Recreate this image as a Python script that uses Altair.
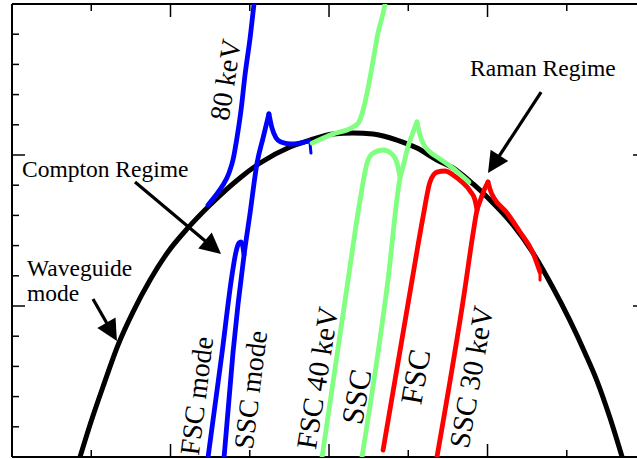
import altair as alt
import pandas as pd

# Dispersion diagram: frequency w against wavenumber k (arbitrary units)
K_MAX = 3.943
W_MAX = 3.0

# Waveguide mode
wg_k = [0.429, 0.498, 0.580, 0.669, 0.763, 0.871, 0.984, 1.110, 1.249, 1.438, 1.565,
        1.754, 1.880, 2.025, 2.151, 2.278, 2.429, 2.555, 2.681, 2.782, 2.909, 3.016,
        3.161, 3.287, 3.407, 3.521, 3.615, 3.691, 3.773, 3.849]
wg_w = [0.000, 0.232, 0.483, 0.742, 0.960, 1.172, 1.358, 1.517, 1.669, 1.848, 1.947,
        2.053, 2.099, 2.139, 2.146, 2.139, 2.099, 2.046, 1.967, 1.914, 1.808, 1.702,
        1.536, 1.351, 1.132, 0.901, 0.689, 0.503, 0.258, 0.000]

# 80 keV beam
b_upper_k = [1.237, 1.287, 1.331, 1.369, 1.394, 1.420, 1.445, 1.470, 1.502, 1.527, 1.539]
b_upper_w = [1.669, 1.735, 1.801, 1.881, 1.967, 2.119, 2.298, 2.530, 2.775, 3.000, 3.093]
b_fsc_k = [1.237, 1.325, 1.388, 1.413, 1.432, 1.445, 1.457, 1.464]
b_fsc_w = [0.000, 0.689, 1.205, 1.358, 1.417, 1.424, 1.391, 1.338]
b_ssc_k = [1.338, 1.394, 1.464, 1.502, 1.546, 1.584, 1.621]
b_ssc_w = [0.000, 0.689, 1.338, 1.616, 1.947, 2.113, 2.272]
b_tail_k = [1.621, 1.640, 1.666, 1.697, 1.754, 1.817, 1.874]
b_tail_w = [2.272, 2.179, 2.113, 2.086, 2.073, 2.079, 2.093]
b_end_k = [1.874, 1.880, 1.886]
b_end_w = [2.093, 2.080, 2.013]

# 40 keV beam
g_upper_k = [1.893, 2.025, 2.151, 2.189, 2.215, 2.240, 2.271, 2.309, 2.353, 2.366]
g_upper_w = [2.079, 2.139, 2.185, 2.219, 2.298, 2.411, 2.583, 2.808, 3.000, 3.093]
g_fsc_k = [1.956, 2.120, 2.196, 2.240, 2.278, 2.341, 2.397, 2.429, 2.448]
g_fsc_w = [0.000, 1.172, 1.702, 1.947, 2.013, 2.033, 2.007, 1.947, 1.854]
g_ssc_k = [2.208, 2.372, 2.448, 2.473, 2.492, 2.524, 2.555]
g_ssc_w = [0.000, 1.172, 1.848, 1.947, 2.033, 2.132, 2.219]
g_tail_k = [2.555, 2.574, 2.599, 2.637, 2.700, 2.763, 2.826, 2.883]
g_tail_w = [2.219, 2.132, 2.066, 2.020, 1.974, 1.927, 1.874, 1.821]

# 30 keV beam
r_fsc_k = [2.341, 2.524, 2.593, 2.637, 2.681, 2.732, 2.782, 2.839, 2.890, 2.921, 2.934]
r_fsc_w = [0.046, 1.172, 1.589, 1.821, 1.887, 1.894, 1.868, 1.821, 1.762, 1.702, 1.636]
r_ssc_k = [2.681, 2.858, 2.909, 2.934, 2.953, 2.984, 3.003]
r_ssc_w = [0.000, 1.119, 1.483, 1.636, 1.695, 1.781, 1.821]
r_tail_k = [3.003, 3.022, 3.041, 3.123, 3.205, 3.287, 3.331]
r_tail_w = [1.821, 1.755, 1.715, 1.616, 1.490, 1.351, 1.225]
r_end_k = [3.331, 3.331]
r_end_w = [1.225, 1.172]

# Tick values
k_major = [0, 1, 2, 3]
k_minor = [0.5, 1.5, 2.5, 3.5]
w_major = [0, 1, 2, 3]
w_minor = [0.2, 0.4, 0.6, 0.8, 1.2, 1.4, 1.6, 1.8, 2.2, 2.4, 2.6, 2.8]

# Annotation arrows: shaft start, shaft end, head tip, heading (deg)
arrow_name = ["compton", "waveguide", "raman"]
arrow_k0 = [0.776, 0.511, 3.338]
arrow_w0 = [1.821, 1.046, 2.417]
arrow_k1 = [1.270, 0.631, 3.038]
arrow_w1 = [1.386, 0.826, 1.936]
arrow_tip_k = [1.319, 0.662, 3.003]
arrow_tip_w = [1.344, 0.768, 1.881]
arrow_heading = [130, 150, 213]

# Horizontal labels
note_text = ["Compton Regime", "Raman Regime", "Waveguide", "mode"]
note_k = [0.063, 2.890, 0.095, 0.095]
note_w = [1.854, 2.523, 1.199, 1.033]

# Labels along the beam lines
beam_text = ["80 keV", "FSC mode", "SSC mode", "FSC 40 keV", "SSC", "FSC", "SSC 30 keV"]
beam_k = [1.356, 1.174, 1.514, 1.931, 2.183, 2.555, 2.902]
beam_w = [2.497, 0.404, 0.444, 0.523, 0.397, 0.530, 0.530]

xs = alt.Scale(domain=[0, K_MAX], nice=False, zero=False)
ys = alt.Scale(domain=[0, W_MAX], nice=False, zero=False)
X = lambda f: alt.X(f, type="quantitative", scale=xs, axis=None)
Y = lambda f: alt.Y(f, type="quantitative", scale=ys, axis=None)


def segments(pairs):
    rows = []
    for name, ks, ws in pairs:
        for i, (k, w) in enumerate(zip(ks, ws)):
            rows.append({"seg": name, "i": i, "k": k, "w": w})
    return pd.DataFrame(rows)


def curve(df, color, width, interp="monotone"):
    return alt.Chart(df).mark_line(
        color=color, strokeWidth=width, interpolate=interp, clip=True,
        strokeCap="round", strokeJoin="round"
    ).encode(x=X("k"), y=Y("w"), detail="seg:N", order="i:Q")


black = curve(segments([("wg", wg_k, wg_w)]), "#000000", 5)

BLUE, GREEN, RED = "#0000ff", "#80ff80", "#ff0000"
LW = 4.8
blue = curve(segments([("up", b_upper_k, b_upper_w), ("fsc", b_fsc_k, b_fsc_w),
                       ("ssc", b_ssc_k, b_ssc_w), ("tail", b_tail_k, b_tail_w)]), BLUE, LW)
blue_end = curve(segments([("end", b_end_k, b_end_w)]), BLUE, 3, "linear")
red = curve(segments([("fsc", r_fsc_k, r_fsc_w), ("ssc", r_ssc_k, r_ssc_w),
                      ("tail", r_tail_k, r_tail_w)]), RED, LW)
red_end = curve(segments([("end", r_end_k, r_end_w)]), RED, 3, "linear")
green = curve(segments([("up", g_upper_k, g_upper_w), ("fsc", g_fsc_k, g_fsc_w),
                        ("ssc", g_ssc_k, g_ssc_w), ("tail", g_tail_k, g_tail_w)]), GREEN, LW)

# Frame (left, top, bottom) and inward ticks
H, W = 453, 625
frame_top = alt.Chart(pd.DataFrame({"w": [W_MAX]})).mark_rule(color="black", strokeWidth=2).encode(
    y=Y("w"), x=alt.value(0), x2=alt.value(W))
frame_bottom = alt.Chart(pd.DataFrame({"w": [0]})).mark_rule(color="black", strokeWidth=2).encode(
    y=Y("w"), x=alt.value(0), x2=alt.value(W))
frame_left = alt.Chart(pd.DataFrame({"k": [0]})).mark_rule(color="black", strokeWidth=2).encode(
    x=X("k"), y=alt.value(0), y2=alt.value(H))

tick = dict(color="black", strokeWidth=1.5)
kmaj = pd.DataFrame({"k": k_major})
kmin = pd.DataFrame({"k": k_minor})
wmaj = pd.DataFrame({"w": w_major})
wmin = pd.DataFrame({"w": w_minor})
ticks = [
    alt.Chart(kmaj).mark_rule(**tick).encode(x=X("k"), y=alt.value(H), y2=alt.value(H - 13)),
    alt.Chart(kmin).mark_rule(**tick).encode(x=X("k"), y=alt.value(H), y2=alt.value(H - 7)),
    alt.Chart(kmaj).mark_rule(**tick).encode(x=X("k"), y=alt.value(0), y2=alt.value(13)),
    alt.Chart(kmin).mark_rule(**tick).encode(x=X("k"), y=alt.value(0), y2=alt.value(7)),
    alt.Chart(wmaj).mark_rule(**tick).encode(y=Y("w"), x=alt.value(0), x2=alt.value(13)),
    alt.Chart(wmin).mark_rule(**tick).encode(y=Y("w"), x=alt.value(0), x2=alt.value(7)),
    alt.Chart(wmaj).mark_rule(**tick).encode(y=Y("w"), x=alt.value(W - 4), x2=alt.value(W + 12)),
]

arrows_df = pd.DataFrame({"name": arrow_name, "k0": arrow_k0, "w0": arrow_w0,
                          "k1": arrow_k1, "w1": arrow_w1, "tk": arrow_tip_k,
                          "tw": arrow_tip_w, "heading": arrow_heading})
shafts = alt.Chart(arrows_df).mark_rule(color="black", strokeWidth=3.2).encode(
    x=X("k0"), y=Y("w0"), x2="k1:Q", y2="w1:Q")
heads = alt.Chart(arrows_df).mark_point(
    shape="M0,0L-0.5,1L0.5,1Z", filled=True, color="black", opacity=1, size=1764, strokeWidth=0
).encode(x=X("tk"), y=Y("tw"), angle=alt.Angle("heading:Q", scale=None))

SERIF = "Liberation Serif"
notes = alt.Chart(pd.DataFrame({"t": note_text, "k": note_k, "w": note_w})).mark_text(
    font=SERIF, fontSize=23.5, align="left", baseline="alphabetic", color="black"
).encode(x=X("k"), y=Y("w"), text="t:N")

beam_style = {
    "80 keV": (279, 28), "FSC mode": (277, 28), "SSC mode": (277, 28),
    "FSC 40 keV": (279, 29), "SSC": (280, 31), "FSC": (280, 31), "SSC 30 keV": (280, 29),
}
beam_layers = []
for t, k, w in zip(beam_text, beam_k, beam_w):
    ang, fs = beam_style[t]
    beam_layers.append(
        alt.Chart(pd.DataFrame({"t": [t], "k": [k], "w": [w]})).mark_text(
            font=SERIF, fontSize=fs, angle=ang, align="center", baseline="middle", color="black"
        ).encode(x=X("k"), y=Y("w"), text="t:N")
    )

chart = alt.layer(
    frame_top, frame_bottom, frame_left, *ticks,
    black, blue, blue_end, red, red_end, green,
    shafts, heads, notes, *beam_layers
).properties(
    width=W, height=H,
    padding={"left": 12, "top": 4, "right": 0, "bottom": 2},
    autosize="none",
    background="white",
).configure_view(stroke=None)

chart.save("out.html", embed_options={"renderer": "svg", "actions": False})
